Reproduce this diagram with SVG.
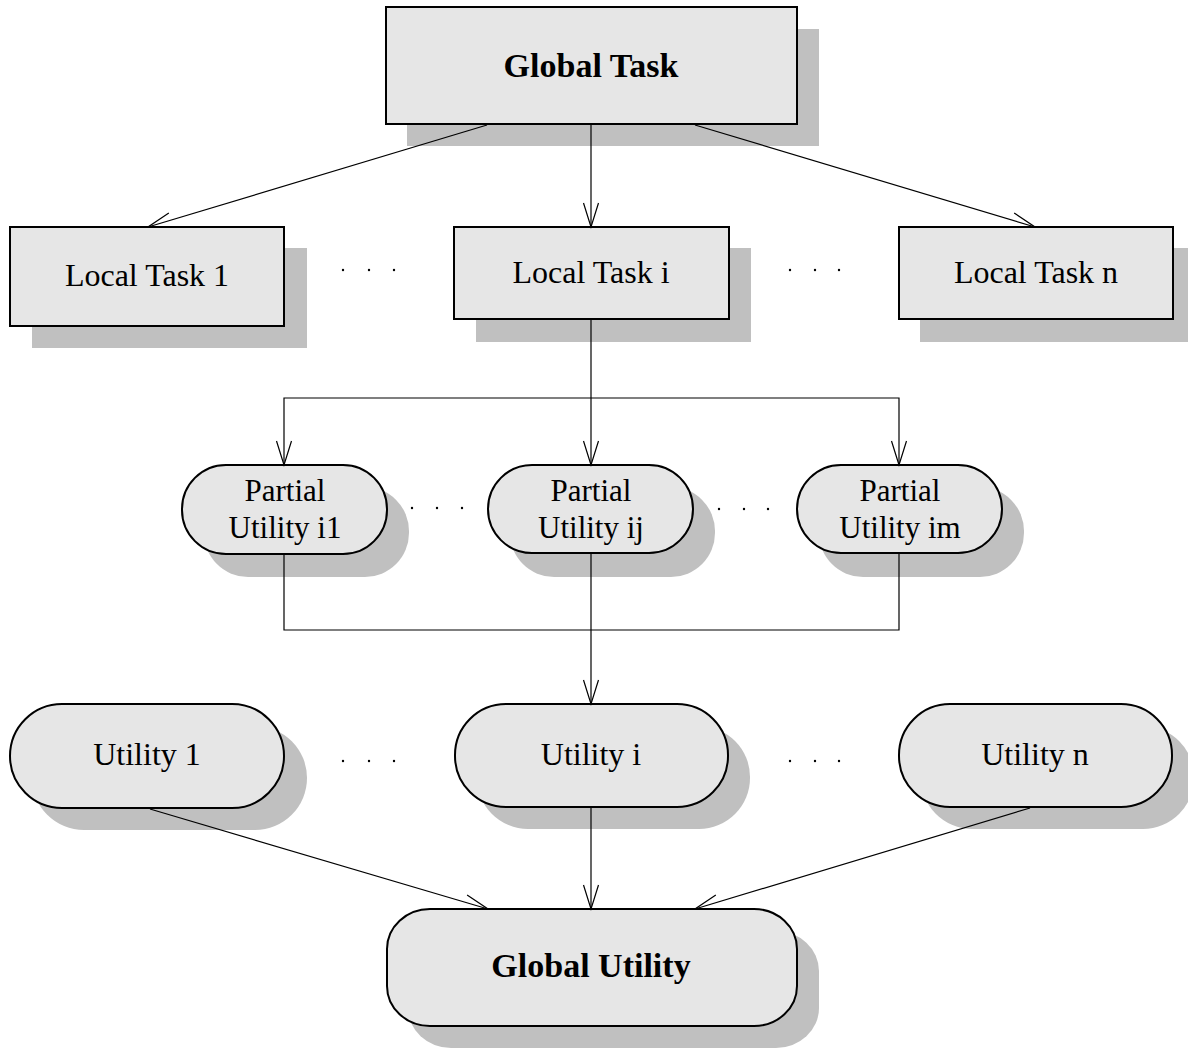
<svg xmlns="http://www.w3.org/2000/svg" width="1188" height="1048" viewBox="0 0 1188 1048">
  <style>
    .shadow { fill: #c0c0c0; stroke: none; }
    .box { fill: #e6e6e6; stroke: #000; stroke-width: 2; }
    .lbl { font-family: "Liberation Serif", "Times New Roman", serif; font-size: 32px; fill: #000; text-anchor: middle; }
    .plbl { font-family: "Liberation Serif", "Times New Roman", serif; font-size: 31px; fill: #000; text-anchor: middle; }
    .bold { font-weight: bold; font-size: 34px; }
    .edge { fill: none; stroke: #000; stroke-width: 1.2; }
    .dot { fill: #000; }
  </style>
  <defs>
    <marker id="arrow" markerUnits="userSpaceOnUse" markerWidth="30" markerHeight="20" viewBox="-26 -10 28 20" refX="0" refY="0" orient="auto">
      <path d="M -24 -7.5 L 0 0 L -24 7.5" fill="none" stroke="#000" stroke-width="1.2"/>
    </marker>
  </defs>
  <rect width="1188" height="1048" fill="#fff"/>

  <!-- ellipsis dots between siblings -->
  <g id="ellipses">
    <circle class="dot" cx="343" cy="270" r="1.2"/><circle class="dot" cx="369" cy="270" r="1.2"/><circle class="dot" cx="394" cy="270" r="1.2"/>
    <circle class="dot" cx="790" cy="270" r="1.2"/><circle class="dot" cx="815" cy="270" r="1.2"/><circle class="dot" cx="839" cy="270" r="1.2"/>
    <circle class="dot" cx="412" cy="508" r="1.2"/><circle class="dot" cx="437" cy="508" r="1.2"/><circle class="dot" cx="462" cy="508" r="1.2"/>
    <circle class="dot" cx="719" cy="509" r="1.2"/><circle class="dot" cx="744" cy="509" r="1.2"/><circle class="dot" cx="768" cy="509" r="1.2"/>
    <circle class="dot" cx="343" cy="761" r="1.2"/><circle class="dot" cx="369" cy="761" r="1.2"/><circle class="dot" cx="394" cy="761" r="1.2"/>
    <circle class="dot" cx="790" cy="761" r="1.2"/><circle class="dot" cx="815" cy="761" r="1.2"/><circle class="dot" cx="839" cy="761" r="1.2"/>
  </g>

  <!-- task nodes -->
  <g id="global-task">
    <rect class="shadow" x="407" y="29" width="412" height="117"/>
    <rect class="box" x="386" y="7" width="411" height="117"/>
    <text class="lbl bold" x="591" y="77">Global Task</text>
  </g>
  <g id="local-task-1">
    <rect class="shadow" x="32" y="248" width="275" height="100"/>
    <rect class="box" x="10" y="227" width="274" height="99"/>
    <text class="lbl" x="147" y="286">Local Task 1</text>
  </g>
  <g id="local-task-i">
    <rect class="shadow" x="476" y="248" width="275" height="94"/>
    <rect class="box" x="454" y="227" width="275" height="92"/>
    <text class="lbl" x="591" y="283">Local Task i</text>
  </g>
  <g id="local-task-n">
    <rect class="shadow" x="920" y="248" width="275" height="94"/>
    <rect class="box" x="899" y="227" width="274" height="92"/>
    <text class="lbl" x="1036" y="283">Local Task n</text>
  </g>

  <!-- partial utility nodes -->
  <g id="partial-utility-i1">
    <rect class="shadow" x="204" y="487" width="205" height="90" rx="44" ry="44"/>
    <rect class="box" x="182" y="465" width="205" height="89" rx="44" ry="44"/>
    <text class="plbl" x="285" y="501">Partial</text>
    <text class="plbl" x="285" y="538">Utility i1</text>
  </g>
  <g id="partial-utility-ij">
    <rect class="shadow" x="510" y="487" width="205" height="90" rx="44" ry="44"/>
    <rect class="box" x="488" y="465" width="205" height="88" rx="44" ry="44"/>
    <text class="plbl" x="591" y="501">Partial</text>
    <text class="plbl" x="591" y="538">Utility ij</text>
  </g>
  <g id="partial-utility-im">
    <rect class="shadow" x="819" y="487" width="205" height="90" rx="44" ry="44"/>
    <rect class="box" x="797" y="465" width="205" height="88" rx="44" ry="44"/>
    <text class="plbl" x="900" y="501">Partial</text>
    <text class="plbl" x="900" y="538">Utility im</text>
  </g>

  <!-- utility nodes -->
  <g id="utility-1">
    <rect class="shadow" x="32" y="726" width="275" height="104" rx="52" ry="52"/>
    <rect class="box" x="10" y="704" width="274" height="104" rx="52" ry="52"/>
    <text class="lbl" x="147" y="765">Utility 1</text>
  </g>
  <g id="utility-i">
    <rect class="shadow" x="477" y="726" width="273" height="103" rx="51" ry="51"/>
    <rect class="box" x="455" y="704" width="273" height="103" rx="51" ry="51"/>
    <text class="lbl" x="591" y="765">Utility i</text>
  </g>
  <g id="utility-n">
    <rect class="shadow" x="921" y="726" width="273" height="103" rx="51" ry="51"/>
    <rect class="box" x="899" y="704" width="273" height="103" rx="51" ry="51"/>
    <text class="lbl" x="1035" y="765">Utility n</text>
  </g>

  <g id="global-utility">
    <rect class="shadow" x="408" y="931" width="411" height="117" rx="43" ry="40"/>
    <rect class="box" x="387" y="909" width="410" height="117" rx="43" ry="40"/>
    <text class="lbl bold" x="591" y="977">Global Utility</text>
  </g>

  <!-- connectors, drawn above the drop shadows -->
  <g id="connectors">
    <line class="edge" x1="487" y1="125" x2="148" y2="227" marker-end="url(#arrow)"/>
    <line class="edge" x1="591" y1="125" x2="591" y2="227" marker-end="url(#arrow)"/>
    <line class="edge" x1="695" y1="125" x2="1035" y2="227" marker-end="url(#arrow)"/>

    <line class="edge" x1="591" y1="320" x2="591" y2="465" marker-end="url(#arrow)"/>
    <polyline class="edge" points="284,440 284,398 899,398 899,440"/>
    <line class="edge" x1="284" y1="440" x2="284" y2="465" marker-end="url(#arrow)"/>
    <line class="edge" x1="899" y1="440" x2="899" y2="465" marker-end="url(#arrow)"/>

    <polyline class="edge" points="284,555 284,630 899,630 899,554"/>
    <line class="edge" x1="591" y1="554" x2="591" y2="704" marker-end="url(#arrow)"/>

    <line class="edge" x1="150" y1="809" x2="488" y2="909" marker-end="url(#arrow)"/>
    <line class="edge" x1="591" y1="808" x2="591" y2="909" marker-end="url(#arrow)"/>
    <line class="edge" x1="1030" y1="808" x2="695" y2="909" marker-end="url(#arrow)"/>
  </g>
</svg>
